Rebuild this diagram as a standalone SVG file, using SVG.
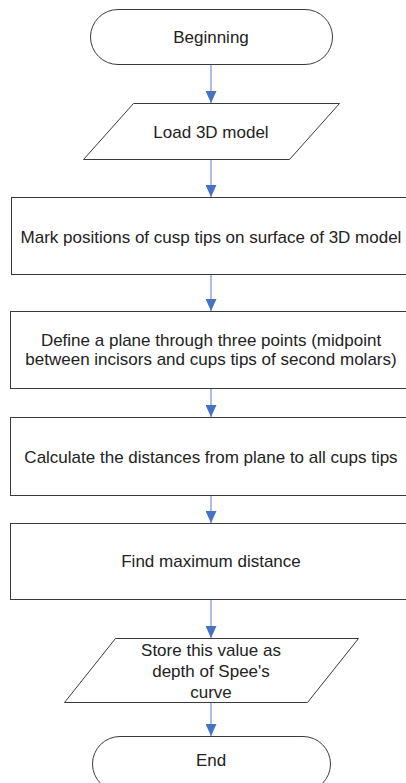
<svg xmlns="http://www.w3.org/2000/svg" width="406" height="783" viewBox="0 0 406 783">
<style>
.s{fill:#fff;stroke:#3a3a3a;stroke-width:1}
.t{font-family:"Liberation Sans",Arial,sans-serif;font-size:17px;fill:#222;text-anchor:middle;dominant-baseline:central}
.c{stroke:#8eaadb;stroke-width:1.5;fill:none}
</style>
<defs>
<marker id="ah" markerUnits="userSpaceOnUse" markerWidth="12" markerHeight="11" refX="12" refY="5.5" orient="auto">
<path d="M0,0 L12,5.5 L0,11 Z" fill="#4472c4"/>
</marker>
</defs>
<rect width="406" height="783" fill="#fff"/>
<g id="connectors">
<line class="c" x1="211" y1="64" x2="211" y2="103" marker-end="url(#ah)"/>
<line class="c" x1="211" y1="159" x2="211" y2="197" marker-end="url(#ah)"/>
<line class="c" x1="211" y1="274" x2="211" y2="311" marker-end="url(#ah)"/>
<line class="c" x1="211" y1="388" x2="211" y2="417" marker-end="url(#ah)"/>
<line class="c" x1="211" y1="495" x2="211" y2="523" marker-end="url(#ah)"/>
<line class="c" x1="211" y1="599" x2="211" y2="638" marker-end="url(#ah)"/>
<line class="c" x1="211" y1="702" x2="211" y2="736" marker-end="url(#ah)"/>
</g>
<g id="start">
<rect class="s" x="90.5" y="9.5" width="242" height="55" rx="27.5"/>
<text class="t" x="211" y="37">Beginning</text>
</g>
<g id="load">
<polygon class="s" points="133.5,103.5 339.5,103.5 289.5,159.5 83.5,159.5"/>
<text class="t" x="211" y="132">Load 3D model</text>
</g>
<g id="mark">
<rect class="s" x="11.5" y="197.5" width="400" height="77"/>
<text class="t" x="211" y="237">Mark positions of cusp tips on surface of 3D model</text>
</g>
<g id="define">
<rect class="s" x="10.5" y="311.5" width="400" height="77"/>
<text class="t" x="211" y="340">Define a plane through three points (midpoint</text>
<text class="t" x="211" y="359">between incisors and cups tips of second molars)</text>
</g>
<g id="calc">
<rect class="s" x="10.5" y="417.5" width="400" height="78"/>
<text class="t" x="211" y="457">Calculate the distances from plane to all cups tips</text>
</g>
<g id="find">
<rect class="s" x="10.5" y="523.5" width="400" height="76"/>
<text class="t" x="211" y="561">Find maximum distance</text>
</g>
<g id="store">
<polygon class="s" points="115.5,638.5 358.5,638.5 307.5,702.5 64.5,702.5"/>
<text class="t" x="211" y="650">Store this value as</text>
<text class="t" x="211" y="671">depth of Spee's</text>
<text class="t" x="211" y="692">curve</text>
</g>
<g id="end">
<rect class="s" x="92.5" y="736.5" width="238" height="55" rx="27.5"/>
<text class="t" x="211" y="760">End</text>
</g>
</svg>
